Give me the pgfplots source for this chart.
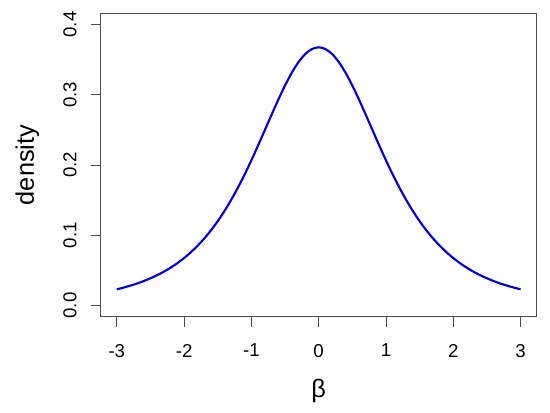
\documentclass[border=0pt]{standalone}
\usepackage{pgfplots}
\pgfplotsset{compat=1.18}
\usepackage{fontspec}
\setmainfont{Liberation Sans}
\begin{document}
\begin{tikzpicture}
\path[use as bounding box] (-75.5pt,-72.2pt) rectangle (337pt,237.5pt);
\begin{axis}[
  at={(0,0)}, anchor=south west,
  scale only axis, width=327pt, height=227.5pt,
  xmin=-3.24, xmax=3.24, ymin=-0.016, ymax=0.416,
  xtick={-3,-2,-1,0,1,2,3},
  ytick={0,0.1,0.2,0.3,0.4},
  yticklabels={0.0,0.1,0.2,0.3,0.4},
  xticklabels={-3,-2,-1,0,1,2,3},
  tick align=outside, major tick length=7.5pt,
  tick style={black!70, line width=0.6pt},
  axis line style={black!70, line width=0.6pt},
  xtick pos=bottom, ytick pos=left,
  ticklabel style={font=\fontsize{14}{16}\selectfont},
  /pgf/number format/assume math mode=true,
  yticklabel style={rotate=90, anchor=south},
  yticklabel shift=7pt,
  xticklabel style={anchor=north},
  xticklabel shift=9.5pt,
  xlabel={β}, ylabel={density},
  label style={font=\fontsize{19}{22}\selectfont},
  xlabel style={at={(axis description cs:0.5,0)}, anchor=center, yshift=-55.5pt},
  ylabel style={at={(axis description cs:-0.1682,0.5)}, anchor=center},
  clip=false,
]
\addplot[color={rgb,255:red,0;green,0;blue,230}, line width=1.6pt, smooth] coordinates {
(-3.0,0.0230) (-2.9,0.0254) (-2.8,0.0282) (-2.7,0.0312) (-2.6,0.0347)
(-2.5,0.0387) (-2.4,0.0431) (-2.3,0.0481) (-2.2,0.0538) (-2.1,0.0602)
(-2.0,0.0675) (-1.9,0.0757) (-1.8,0.0850) (-1.7,0.0954) (-1.6,0.1070)
(-1.5,0.1200) (-1.4,0.1345) (-1.3,0.1504) (-1.2,0.1678) (-1.1,0.1866)
(-1.0,0.2067) (-0.9,0.2279) (-0.8,0.2497) (-0.7,0.2716) (-0.6,0.2930)
(-0.5,0.3132) (-0.4,0.3313) (-0.3,0.3465) (-0.2,0.3580) (-0.1,0.3651)
(0.0,0.3676)
(0.1,0.3651) (0.2,0.3580) (0.3,0.3465) (0.4,0.3313) (0.5,0.3132)
(0.6,0.2930) (0.7,0.2716) (0.8,0.2497) (0.9,0.2279) (1.0,0.2067)
(1.1,0.1866) (1.2,0.1678) (1.3,0.1504) (1.4,0.1345) (1.5,0.1200)
(1.6,0.1070) (1.7,0.0954) (1.8,0.0850) (1.9,0.0757) (2.0,0.0675)
(2.1,0.0602) (2.2,0.0538) (2.3,0.0481) (2.4,0.0431) (2.5,0.0387)
(2.6,0.0347) (2.7,0.0312) (2.8,0.0282) (2.9,0.0254) (3.0,0.0230)
};
\end{axis}
\end{tikzpicture}
\end{document}
